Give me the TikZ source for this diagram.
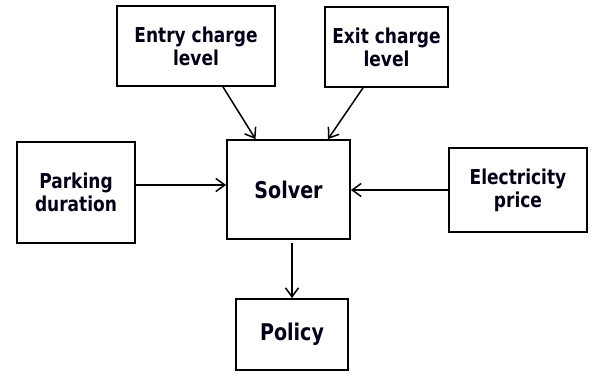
\documentclass[tikz,border=0pt]{standalone}
\usepackage{fontspec}
\setmainfont{DejaVu Sans}[FakeStretch=0.83]
\usetikzlibrary{arrows.meta}
\begin{document}
\begin{tikzpicture}[x=1pt,y=-1pt,
  box/.style={draw,line width=1.8pt,rectangle,inner sep=0pt,align=center,
    font=\fontsize{20.5}{23}\selectfont\bfseries,text=black!90!blue},
  big/.style={font=\fontsize{23}{26}\selectfont\bfseries},
  arr/.style={line width=1.5pt,-{Straight Barb[length=9pt,width=13pt,line width=1.5pt]}}]
\useasboundingbox (0,0) rectangle (594,375);
\node[box,minimum width=158pt,minimum height=80pt] (entry) at (196,46) {Entry charge\\level};
\node[box,minimum width=123pt,minimum height=80pt] (exit) at (386.5,47) {Exit charge\\level};
\node[box,minimum width=118pt,minimum height=101pt] (parking) at (76,192.5) {Parking\\duration};
\node[box,big,minimum width=123pt,minimum height=99pt] (solver) at (288.5,189.5) {Solver};
\node[box,minimum width=138pt,minimum height=84pt] (elec) at (518,190) {Electricity\\price};
\node[box,big,minimum width=112pt,minimum height=71pt] (policy) at (292,334.5) {Policy};
\draw[arr] ([xshift=27pt]entry.south) -- ([xshift=-33pt]solver.north);
\draw[arr] ([xshift=-23.5pt]exit.south) -- ([xshift=39.5pt]solver.north);
\coordinate (pin) at ([yshift=7.5pt]parking.east);
\draw[arr] (pin) -- (pin -| solver.west);
\draw[arr] (elec.west) -- (elec.west -| solver.east);
\draw[arr,shorten <=3pt] (solver.south -| policy.north) -- (policy.north);
\end{tikzpicture}
\end{document}
